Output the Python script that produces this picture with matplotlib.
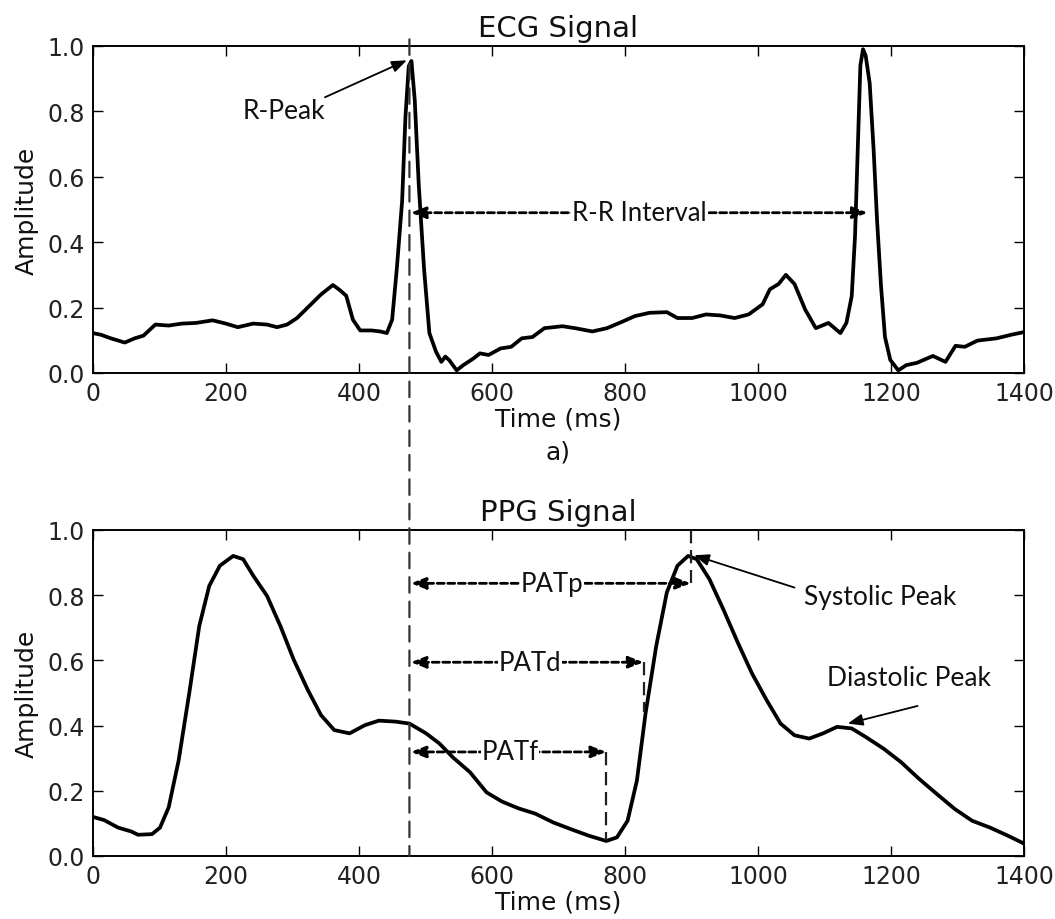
import matplotlib
matplotlib.use("Agg")
import matplotlib.pyplot as plt
from matplotlib.patches import ConnectionPatch

# ECG trace (ms, amplitude)
ecg_t = [0, 12, 27, 48, 63, 76, 94, 114, 134, 155, 180, 200, 218, 241, 262, 277,
         292, 307, 328, 343, 361, 371, 381, 391, 402, 419, 432, 442, 450, 457, 465,
         470, 475, 479, 484, 490, 498, 506, 516, 524, 530, 536, 547, 557, 572, 582,
         595, 613, 629, 645, 661, 679, 706, 725, 751, 773, 794, 815, 837, 863, 879,
         901, 922, 943, 965, 986, 1007, 1018, 1031, 1042, 1055, 1071, 1087, 1106,
         1124, 1133, 1141, 1146, 1150, 1154, 1158, 1162, 1168, 1174, 1179, 1185,
         1191, 1199, 1211, 1223, 1239, 1263, 1282, 1297, 1311, 1330, 1359, 1381, 1400]
ecg_a = [0.122, 0.117, 0.106, 0.093, 0.106, 0.114, 0.148, 0.145, 0.151, 0.153,
         0.161, 0.151, 0.14, 0.151, 0.148, 0.14, 0.148, 0.168, 0.21, 0.24, 0.269,
         0.254, 0.236, 0.163, 0.13, 0.13, 0.127, 0.122, 0.163, 0.318, 0.525, 0.783,
         0.938, 0.954, 0.835, 0.576, 0.318, 0.122, 0.065, 0.034, 0.05, 0.039, 0.008,
         0.024, 0.044, 0.06, 0.055, 0.075, 0.08, 0.106, 0.11, 0.137, 0.143, 0.137,
         0.127, 0.137, 0.155, 0.174, 0.184, 0.186, 0.168, 0.168, 0.179, 0.176,
         0.168, 0.179, 0.21, 0.256, 0.272, 0.30, 0.272, 0.194, 0.137, 0.153, 0.122,
         0.153, 0.235, 0.42, 0.68, 0.94, 0.99, 0.97, 0.886, 0.68, 0.47, 0.267, 0.11,
         0.04, 0.008, 0.024, 0.031, 0.052, 0.034, 0.083, 0.08, 0.099, 0.106, 0.117,
         0.125]

# PPG trace
ppg_t = [0, 17, 38, 58, 68, 89, 101, 114, 129, 145, 160, 175, 191, 211, 226, 241,
         262, 282, 302, 323, 343, 363, 386, 409, 430, 455, 476, 501, 521, 541, 567,
         592, 615, 640, 665, 692, 719, 746, 772, 788, 804, 818, 831, 847, 863, 879,
         895, 908, 927, 948, 970, 991, 1013, 1034, 1055, 1077, 1098, 1119, 1141,
         1162, 1189, 1215, 1242, 1269, 1296, 1322, 1349, 1376, 1400]
ppg_a = [0.12, 0.11, 0.087, 0.075, 0.065, 0.067, 0.087, 0.149, 0.293, 0.5, 0.705,
         0.828, 0.89, 0.92, 0.91, 0.86, 0.797, 0.705, 0.602, 0.51, 0.432, 0.386,
         0.376, 0.401, 0.415, 0.412, 0.406, 0.376, 0.345, 0.303, 0.257, 0.195, 0.167,
         0.146, 0.13, 0.103, 0.082, 0.062, 0.046, 0.057, 0.108, 0.231, 0.437, 0.643,
         0.808, 0.89, 0.92, 0.91, 0.849, 0.756, 0.653, 0.56, 0.478, 0.406, 0.37,
         0.36, 0.376, 0.396, 0.391, 0.365, 0.329, 0.288, 0.237, 0.19, 0.144, 0.108,
         0.087, 0.062, 0.038]

R_PEAK = 476
RR_END = 1165
PAT_P, PAT_D, PAT_F = 899, 828, 772
xticks = [0, 200, 400, 600, 800, 1000, 1200, 1400]
yticks = [0.0, 0.2, 0.4, 0.6, 0.8, 1.0]

ANN_FONT = "Lato"
DASH = (0, (2.5, 1.3))
HEAD = "head_length=0.9,head_width=0.35"

fig = plt.figure(figsize=(10.55, 9.2), dpi=100)
ax1 = fig.add_axes([0.088, 0.5935, 0.8826, 0.3555])
ax2 = fig.add_axes([0.088, 0.0685, 0.8826, 0.3545])


def style(ax, title):
    ax.set_xlim(0, 1400)
    ax.set_ylim(0, 1)
    ax.set_xticks(xticks)
    ax.set_yticks(yticks)
    ax.set_yticklabels([f"{v:.1f}" for v in yticks])
    ax.tick_params(direction="in", top=True, right=True, length=7, width=1,
                   labelsize=17, pad=6, colors="black", labelcolor="#222222")
    for s in ax.spines.values():
        s.set_linewidth(1.4)
    ax.set_title(title, fontsize=21, pad=7, color="#111111")
    ax.set_xlabel("Time (ms)", fontsize=18, labelpad=1, color="#111111")
    ax.set_ylabel("Amplitude", fontsize=18, labelpad=6, color="#111111")


def dim_arrow(ax, x0, x1, y, label, xtext):
    ax.annotate("", xy=(x0, y), xytext=(x1, y),
                arrowprops=dict(arrowstyle="<|-|>," + HEAD, linestyle=DASH, lw=2,
                                color="black", shrinkA=0, shrinkB=0))
    ax.text(xtext, y, label, fontsize=18.5, family=ANN_FONT, ha="center",
            va="center", color="#111111", zorder=10,
            bbox=dict(facecolor="white", edgecolor="none", pad=0.5))


def note(ax, text, tip, tail, pos):
    ax.annotate("", xy=tip, xytext=tail,
                arrowprops=dict(arrowstyle="-|>," + HEAD, lw=1.3, color="black",
                                shrinkA=0, shrinkB=0))
    ax.text(pos[0], pos[1], text, fontsize=19, family=ANN_FONT, ha="center",
            va="center", color="#111111")


# top panel: ECG
style(ax1, "ECG Signal")
ax1.plot(ecg_t, ecg_a, color="black", lw=2.7, solid_joinstyle="round")
dim_arrow(ax1, R_PEAK + 2, RR_END, 0.49, "R-R Interval", 822)
ax1.text(700, -0.24, "a)", ha="center", va="center", fontsize=18,
         color="#111111")
note(ax1, "R-Peak", tip=(472, 0.956), tail=(349, 0.843), pos=(288, 0.804))

# bottom panel: PPG
style(ax2, "PPG Signal")
ax2.plot(ppg_t, ppg_a, color="black", lw=2.7, solid_joinstyle="round")
for x1, y, lab, xt in [(PAT_P, 0.836, "PATp", 690), (PAT_D, 0.594, "PATd", 657),
                       (PAT_F, 0.319, "PATf", 627)]:
    dim_arrow(ax2, R_PEAK + 2, x1, y, lab, xt)
ax2.plot([PAT_D, PAT_D], [0.594, 0.44], ls=(0, (6, 3)), color="#222222", lw=1.6)
ax2.plot([PAT_F, PAT_F], [0.319, 0.05], ls=(0, (6, 3)), color="#222222", lw=1.6)
ax2.plot([PAT_P, PAT_P], [1.0, 0.836], ls=(0, (6, 3)), color="#222222", lw=1.6)
note(ax2, "Systolic Peak", tip=(904, 0.922), tail=(1055, 0.823), pos=(1184, 0.795))
note(ax2, "Diastolic Peak", tip=(1135, 0.406), tail=(1240, 0.46), pos=(1227, 0.548))

# dashed line at the R peak running through both panels
con = ConnectionPatch(xyA=(R_PEAK, 1.02), coordsA=ax1.transData,
                      xyB=(R_PEAK, 0.0), coordsB=ax2.transData,
                      linestyle=(0, (7, 4)), color="#333333", lw=1.6)
fig.add_artist(con)

fig.savefig("out.png", dpi=100)
